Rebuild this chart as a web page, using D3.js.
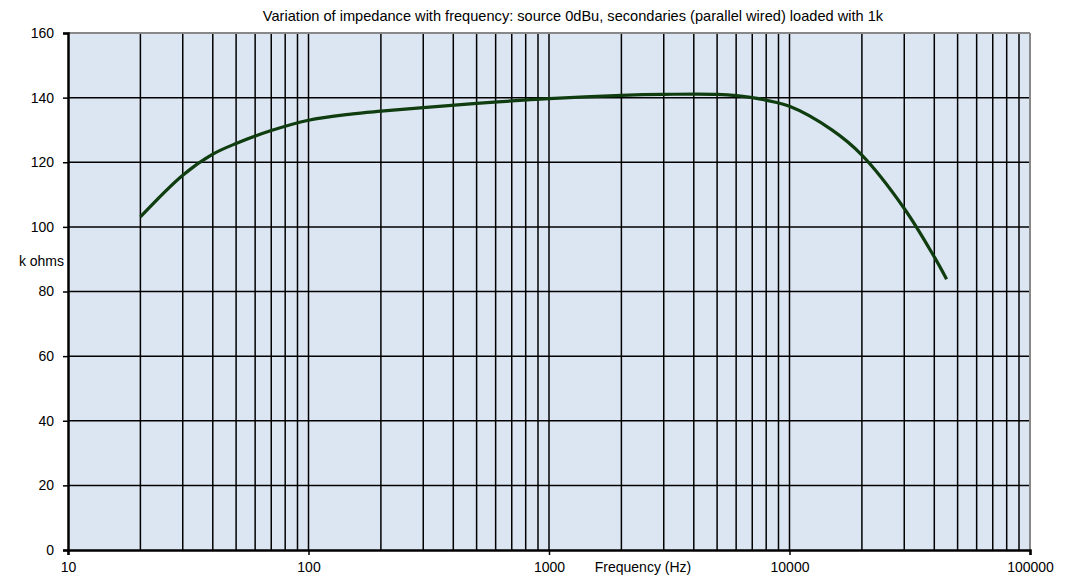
<!DOCTYPE html>
<html><head><meta charset="utf-8">
<script src="https://cdn.jsdelivr.net/npm/d3@7"></script>
<style>body{margin:0;background:#fff;font-family:"Liberation Sans",Arial,sans-serif;}</style>
</head><body>
<svg id="chart" width="1077" height="577"></svg>
<script>
const frequencies = [20,30,40,50,70,100,150,200,300,500,1000,2000,3000,5000,7000,10000,15000,20000,30000,40000,45000];
const impedance = [103.1,116,122.5,125.8,129.8,133.0,134.9,135.8,136.9,138.2,139.7,140.7,141.0,141.0,140.0,137.3,130.0,122.2,105.7,90.7,83.8];
const xTickLabels = [10,100,1000,10000,100000];
const yTickLabels = [0,20,40,60,80,100,120,140,160];
const title = "Variation of impedance with frequency: source 0dBu, secondaries (parallel wired) loaded with 1k";

const FONT = "Liberation Sans, Arial, sans-serif";
const svg = d3.select("#chart");
const L = 68, R = 1030, T = 33, B = 550;
const x = d3.scaleLog().domain([10,100000]).range([L,R]);
const y = d3.scaleLinear().domain([0,160]).range([B,T]);

svg.append("rect").attr("x",L).attr("y",T).attr("width",R-L).attr("height",B-T).attr("fill","#dce6f2");

// vertical grid (every 1-9 step per decade)
const gridX = [];
for (let d=10; d<100000; d*=10) for (let k=(d===10?2:1);k<=9;k++) gridX.push(d*k);
svg.append("g").selectAll("line").data(gridX).join("line")
  .attr("x1",d=>x(d)).attr("x2",d=>x(d)).attr("y1",T).attr("y2",B)
  .attr("stroke","#000").attr("stroke-width",1.5);
svg.append("g").selectAll("line").data(yTickLabels.slice(1,-1)).join("line")
  .attr("x1",L).attr("x2",R).attr("y1",d=>y(d)).attr("y2",d=>y(d))
  .attr("stroke","#000").attr("stroke-width",1.5);

// top/right border
svg.append("line").attr("x1",L).attr("x2",R).attr("y1",T).attr("y2",T).attr("stroke","#888").attr("stroke-width",2);
svg.append("line").attr("x1",R).attr("x2",R).attr("y1",T).attr("y2",B).attr("stroke","#888").attr("stroke-width",2);

// axes
const yAxis = d3.axisLeft(y).tickValues(yTickLabels).tickSize(5).tickPadding(9).tickFormat(d3.format("d"));
const gy = svg.append("g").attr("transform",`translate(${L},0)`).call(yAxis);
gy.select(".domain").attr("stroke","#000").attr("stroke-width",2.5);
gy.selectAll(".tick line").attr("stroke","#000").attr("stroke-width",1.5);
gy.selectAll("text").attr("font-size",14).attr("font-family",FONT).attr("fill","#000");

const xAxis = d3.axisBottom(x).tickValues(xTickLabels).tickSize(5).tickPadding(7).tickFormat(d3.format("d"));
const gx = svg.append("g").attr("transform",`translate(0,${B})`).call(xAxis);
gx.select(".domain").attr("stroke","#000").attr("stroke-width",2.5);
gx.selectAll(".tick line").attr("stroke","#000").attr("stroke-width",1.5);
gx.selectAll("text").attr("font-size",14).attr("font-family",FONT).attr("fill","#000");

// curve
const line = d3.line().x((d,i)=>x(frequencies[i])).y(d=>y(d)).curve(d3.curveCatmullRom.alpha(0.5));
svg.append("path").datum(impedance).attr("d",line).attr("fill","none")
  .attr("stroke","#0f3d0f").attr("stroke-width",3.2).attr("stroke-linejoin","round");

svg.append("text").attr("x",573).attr("y",21).attr("text-anchor","middle").attr("font-size",14.6).attr("font-family",FONT).text(title);
svg.append("text").attr("x",643).attr("y",572).attr("text-anchor","middle").attr("font-size",14).attr("font-family",FONT).text("Frequency (Hz)");
svg.append("text").attr("x",64).attr("y",266).attr("text-anchor","end").attr("font-size",14).attr("font-family",FONT).text("k ohms");
</script>
</body></html>
